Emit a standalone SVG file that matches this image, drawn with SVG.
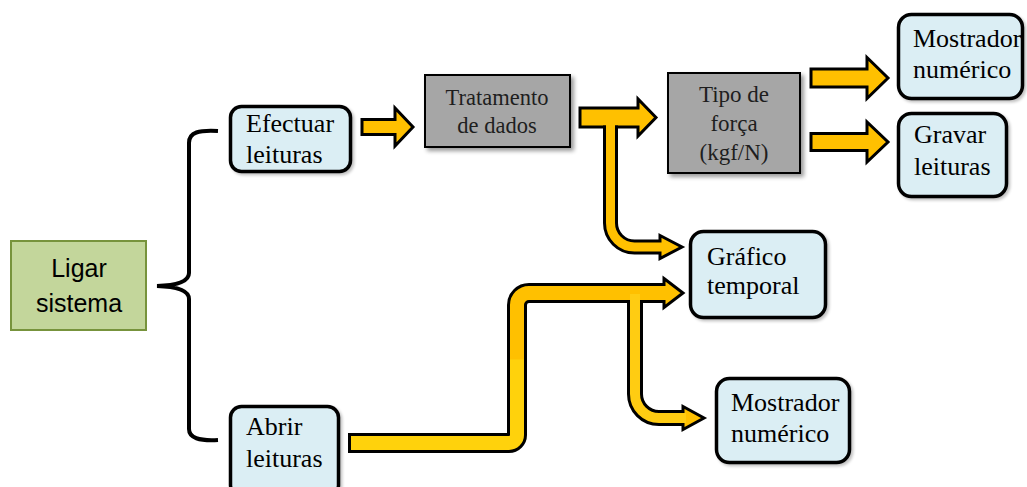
<svg xmlns="http://www.w3.org/2000/svg" width="1027" height="487" viewBox="0 0 1027 487">
  <defs>
    <filter id="shadow" x="-10%" y="-10%" width="130%" height="130%">
      <feGaussianBlur in="SourceAlpha" stdDeviation="2"/>
      <feOffset dx="2.5" dy="2.5" result="b"/>
      <feComponentTransfer><feFuncA type="linear" slope="0.4"/></feComponentTransfer>
      <feMerge><feMergeNode/><feMergeNode in="SourceGraphic"/></feMerge>
    </filter>
    <filter id="soft" x="-10%" y="-10%" width="130%" height="130%">
      <feGaussianBlur in="SourceAlpha" stdDeviation="1.5"/>
      <feOffset dx="1.5" dy="1.5" result="b"/>
      <feComponentTransfer><feFuncA type="linear" slope="0.25"/></feComponentTransfer>
      <feMerge><feMergeNode/><feMergeNode in="SourceGraphic"/></feMerge>
    </filter>
  </defs>
  <style>
    .blue { fill: #dbeef4; stroke: #000; stroke-width: 3.5; filter: url(#soft); }
    .gray { fill: #a6a6a6; stroke: #000; stroke-width: 2; filter: url(#shadow); }
    .green { fill: #c3d69b; stroke: #77933c; stroke-width: 2; }
    .serif { font-family: "Liberation Serif", "Times New Roman", serif; font-size: 26px; fill: #000; }
    .dark { fill: #1e1e1e; }
    .sans { font-family: "Liberation Sans", Arial, sans-serif; font-size: 25px; fill: #000; }
    .block { fill: #ffc000; stroke: #000; stroke-width: 3; stroke-linejoin: miter; }
    .edge { fill: none; stroke: #000; stroke-linecap: butt; stroke-linejoin: round; }
    .core { fill: none; stroke-linecap: butt; stroke-linejoin: round; }
    .brace { fill: none; stroke: #000; stroke-width: 4; stroke-linecap: butt; }
  </style>

  <!-- nodes -->
  <g id="ligar-sistema">
    <rect class="green" x="11" y="241" width="135" height="89"/>
    <text class="sans" text-anchor="middle" x="79" y="277">Ligar</text>
    <text class="sans" text-anchor="middle" x="79" y="312">sistema</text>
  </g>

  <g id="efectuar-leituras">
    <rect class="blue" x="230.5" y="106.5" width="120" height="65" rx="11"/>
    <text class="serif" x="246" y="132">Efectuar</text>
    <text class="serif" x="246" y="163">leituras</text>
  </g>

  <g id="abrir-leituras">
    <rect class="blue" x="230.5" y="406.5" width="108" height="90" rx="11"/>
    <text class="serif" x="246" y="435">Abrir</text>
    <text class="serif" x="246" y="467">leituras</text>
  </g>

  <g id="tratamento-dados">
    <rect class="gray" x="425" y="75" width="145" height="72"/>
    <text class="serif dark" style="font-size:22.5px" text-anchor="middle" x="497" y="105">Tratamento</text>
    <text class="serif dark" style="font-size:22.5px" text-anchor="middle" x="497" y="133">de dados</text>
  </g>

  <g id="tipo-forca">
    <rect class="gray" x="668" y="73" width="132" height="100"/>
    <text class="serif dark" style="font-size:23px" text-anchor="middle" x="734" y="102">Tipo de</text>
    <text class="serif dark" style="font-size:23px" text-anchor="middle" x="734" y="131">força</text>
    <text class="serif dark" style="font-size:23px" text-anchor="middle" x="734" y="160">(kgf/N)</text>
  </g>

  <g id="mostrador-numerico-1">
    <rect class="blue" x="898.5" y="14.5" width="124" height="84" rx="13"/>
    <text class="serif" x="913" y="47">Mostrador</text>
    <text class="serif" x="913" y="78">numérico</text>
  </g>

  <g id="gravar-leituras">
    <rect class="blue" x="898.5" y="113.5" width="108" height="83" rx="13"/>
    <text class="serif" x="914" y="143">Gravar</text>
    <text class="serif" x="914" y="175">leituras</text>
  </g>

  <g id="grafico-temporal">
    <rect class="blue" x="690.5" y="231.5" width="135" height="86" rx="13"/>
    <text class="serif" x="707" y="265">Gráfico</text>
    <text class="serif" x="707" y="294">temporal</text>
  </g>

  <g id="mostrador-numerico-2">
    <rect class="blue" x="716.5" y="378.5" width="133" height="84" rx="13"/>
    <text class="serif" x="731" y="411">Mostrador</text>
    <text class="serif" x="731" y="442">numérico</text>
  </g>

  <!-- connectors -->
  <g id="connectors">
    <!-- brace grouping the two branches of Ligar sistema -->
    <path class="brace" d="M218,131 C199,130 189,132 189,143 V273 Q189,285 157,286 Q189,287 189,299 V429 C189,438 199,441 218,440"/>

    <!-- Efectuar leituras -> Tratamento de dados -->
    <polygon class="block" points="362,119.5 395,119.5 395,108 413,127 395,146 395,134.5 362,134.5"/>

    <!-- Tratamento de dados -> Tipo de força, with branch to Gráfico temporal -->
    <polygon class="block" points="580,108 638,108 638,99 656,117.5 638,136 638,127 580,127"/>
    <path class="edge" stroke-width="15" d="M610.5,125.5 V223 A24,24 0 0 0 634.5,247 H662"/>
    <polygon class="block" points="660,235.5 682,247 660,258.5"/>
    <path class="core" stroke="#ffc000" stroke-width="9" d="M610.5,115 V223 A24,24 0 0 0 634.5,247 H663"/>

    <!-- Tipo de força -> Mostrador numérico / Gravar leituras -->
    <polygon class="block" points="811,69 867,69 867,57.5 888,78 867,98.5 867,87 811,87"/>
    <polygon class="block" points="811,133.5 867,133.5 867,122 888,142 867,162 867,150.5 811,150.5"/>

    <!-- Abrir leituras -> Gráfico temporal, with branch to Mostrador numérico -->
    <path class="edge" stroke-width="20" d="M348,443 H509 A8,8 0 0 0 517,435 V305 A12,12 0 0 1 529,293 H665"/>
    <path class="edge" stroke-width="16" d="M635,294 V394 A24,24 0 0 0 659,418 H686"/>
    <polygon class="block" points="664,278.5 683,293 664,307.5"/>
    <polygon class="block" points="683,406.5 704,418 683,429.5"/>
    <path class="core" stroke="#ffd20c" stroke-width="14" d="M351,443 H509 A8,8 0 0 0 517,435 V359"/>
    <path class="core" stroke="#ffc000" stroke-width="14" d="M517,359.5 V305 A12,12 0 0 1 529,293 H667"/>
    <path class="core" stroke="#ffcc12" stroke-width="10" d="M635,294 V394 A24,24 0 0 0 659,418 H686"/>
  </g>
</svg>
